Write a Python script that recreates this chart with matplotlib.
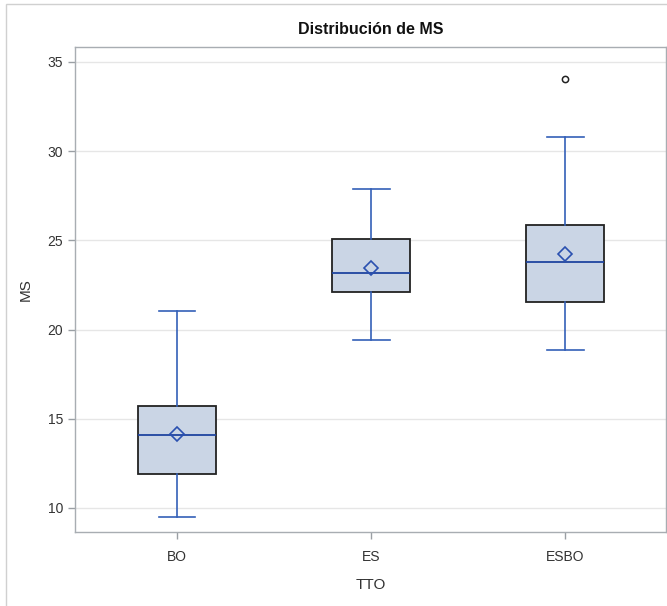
import matplotlib
matplotlib.use("Agg")
import matplotlib.pyplot as plt
from matplotlib.patches import Rectangle

# ---- data ----
categories = ["BO", "ES", "ESBO"]
whislo = [9.5, 19.42, 18.86]
q1 = [11.89, 22.11, 21.53]
med = [14.11, 23.15, 23.81]
q3 = [15.73, 25.06, 25.86]
whishi = [21.04, 27.90, 30.80]
means = [14.15, 23.47, 24.24]
outliers = [[], [], [34.05]]
yticks = [10, 15, 20, 25, 30, 35]

plt.rcParams['font.family'] = ['Liberation Sans Narrow', 'Liberation Sans', 'DejaVu Sans']

fig = plt.figure(figsize=(6.67, 6.06), dpi=100)
ax = fig.add_axes([75/667, 74/606, 591/667, 485/606])

stats = []
for i, c in enumerate(categories):
    stats.append(dict(label=c, whislo=whislo[i], q1=q1[i], med=med[i], q3=q3[i],
                      whishi=whishi[i], mean=means[i], fliers=outliers[i]))

blue = '#3460B8'
ax.bxp(stats, positions=range(len(categories)), widths=0.4, patch_artist=True,
       showmeans=True, showfliers=True,
       boxprops=dict(facecolor='#CAD5E5', edgecolor='#222222', linewidth=1.3),
       medianprops=dict(color='#1F44A0', linewidth=1.3),
       whiskerprops=dict(color=blue, linewidth=1.2),
       capprops=dict(color=blue, linewidth=1.2),
       capwidths=0.19,
       meanprops=dict(marker='D', markerfacecolor='none', markeredgecolor='#2A50B0',
                      markersize=7, markeredgewidth=1.2),
       flierprops=dict(marker='o', markerfacecolor='none', markeredgecolor='#222222',
                       markersize=4.5, markeredgewidth=1.1),
       zorder=3)

ax.set_xlim(-0.526, 2.52)
ax.set_ylim(8.65, 35.84)
ax.set_yticks(yticks)
ax.set_xticks(range(len(categories)))
ax.set_xticklabels(categories)
ax.yaxis.grid(True, color='#E6E6E6', linewidth=1.0, zorder=0)
ax.set_axisbelow(True)

for s in ax.spines.values():
    s.set_color('#A8ADB2')
    s.set_linewidth(1.0)
ax.tick_params(axis='both', colors='#9A9FA4', labelcolor='#333333', labelsize=10,
               length=5, width=1.0, direction='out')
ax.tick_params(axis='x', pad=8)

ax.set_xlabel("TTO", fontsize=11, color='#333333', labelpad=10)
ax.set_ylabel("MS", fontsize=11, color='#333333')
ax.yaxis.set_label_coords(-0.071, 0.5)
ax.set_title("Distribución de MS", fontsize=11.5, fontweight='bold', color='#111111', pad=9)

# thin light frame around the graph area
fig.patches.append(Rectangle((6/667, -0.01), 1.0, 1.0 - 4/606 + 0.01, transform=fig.transFigure,
                             fill=False, edgecolor='#D0D0D0', linewidth=1.0))

fig.savefig("out.png", dpi=100)
